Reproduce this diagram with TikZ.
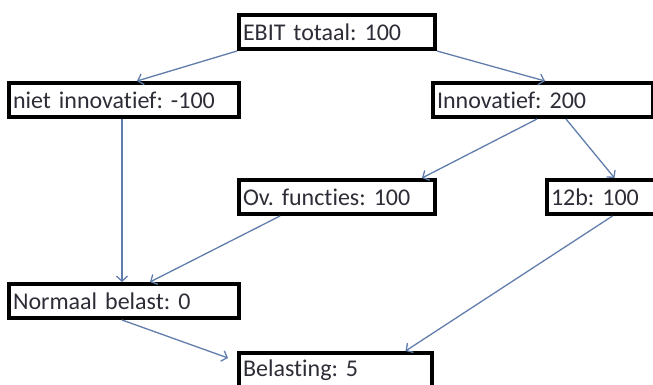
\documentclass[tikz,border=0pt]{standalone}
\usepackage{fontspec}
\setmainfont{Carlito}[Ligatures=NoCommon]
\usetikzlibrary{arrows.meta}
\frenchspacing

\definecolor{pijl}{RGB}{96,125,172}
\definecolor{tekst}{RGB}{45,45,55}

\begin{document}
\begin{tikzpicture}[
		x=1pt, y=-1pt,
		every node/.style={draw, line width=4pt, minimum height=34pt, inner xsep=4pt, align=left,
			text=tekst, font=\fontsize{24}{28}\selectfont},
		pijlen/.style={draw=pijl, line width=1.3pt, -{Straight Barb[length=5pt, width=11pt]}}
	]
  \useasboundingbox (0,0) rectangle (653,385);
  \node (ebit) [text width=188pt] at (337, 32) {EBIT totaal: 100};
  \node (niet) [text width=222pt] at (124, 100) {niet innovatief: -100};
  \node (innov) [text width=212pt] at (543, 100) {Innovatief: 200};
  \node (ovf) [text width=188pt] at (337, 197) {Ov. functies: 100};
  \node (b12) [text width=103pt] at (602.5, 197) {12b: 100};
  \node (norm) [text width=222pt] at (124, 301) {Normaal belast: 0};
  \node (bel) [text width=185pt] at (335.5, 370) {Belasting: 5};
  \draw [pijlen] (ebit.south west) -- ([xshift=13pt]niet.north);
  \draw [pijlen] (ebit.south east) -- ([xshift=2pt]innov.north);
  \draw [pijlen] ([xshift=-2pt]niet.south) -- ([xshift=-2pt]norm.north);
  \draw [pijlen] ([xshift=-6pt]innov.south) -- ([xshift=-15pt]ovf.north east);
  \draw [pijlen] ([xshift=23pt]innov.south) -- ([xshift=12pt]b12.north);
  \draw [pijlen] ([xshift=-57pt]ovf.south) -- ([xshift=26pt]norm.north);
  \draw [pijlen] ([xshift=10pt]b12.south) -- ([xshift=70pt]bel.north);
  \draw [pijlen] ([xshift=-2pt]norm.south) -- ([xshift=-9pt, yshift=12pt]bel.west);
\end{tikzpicture}
\end{document}
